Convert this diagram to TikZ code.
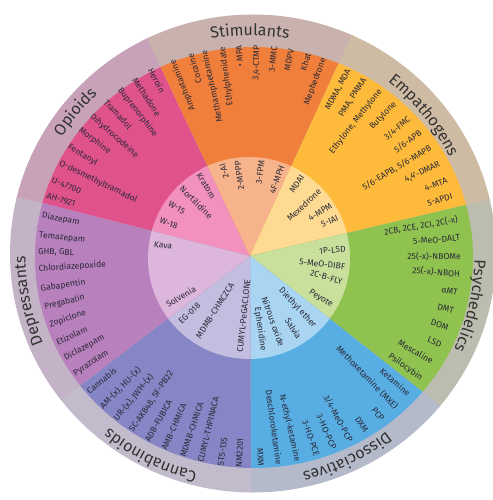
\documentclass[tikz,border=0pt]{standalone}
\usepackage{fontspec}
\setmainfont{Fira Sans}
\usetikzlibrary{decorations.text}
\definecolor{opiB}{HTML}{C8A2B9}\definecolor{opiD}{HTML}{E0528C}\definecolor{opiI}{HTML}{F291BE}
\definecolor{stiB}{HTML}{C9B2AE}\definecolor{stiD}{HTML}{F07F3C}\definecolor{stiI}{HTML}{F7B48C}
\definecolor{empB}{HTML}{CEBBA3}\definecolor{empD}{HTML}{FDBA3B}\definecolor{empI}{HTML}{FEDA93}
\definecolor{psyB}{HTML}{BDBDAF}\definecolor{psyD}{HTML}{8FC24F}\definecolor{psyI}{HTML}{C8E09C}
\definecolor{disB}{HTML}{B5BACB}\definecolor{disD}{HTML}{58ADE3}\definecolor{disI}{HTML}{A9D5F2}
\definecolor{canB}{HTML}{C1BBCB}\definecolor{canD}{HTML}{8685C5}\definecolor{canI}{HTML}{C3BEE0}
\definecolor{depB}{HTML}{C4B2C6}\definecolor{depD}{HTML}{B980BE}\definecolor{depI}{HTML}{DDB6DC}
\definecolor{txt}{HTML}{2B2A38}\definecolor{catc}{HTML}{333333}
\newcommand\catfont{\fontsize{16}{16}\selectfont\color{catc}}
\begin{document}
\begin{tikzpicture}[x=1pt,y=1pt,
  drug/.style={font=\fontsize{8.6}{9}\selectfont, text=txt, inner sep=0pt},
  rdrug/.style={drug, anchor=east},
  ldrug/.style={drug, anchor=west},
  catlabel/.style={decorate, decoration={text along path, text align=center}}]
\useasboundingbox (-250,-244) rectangle (242,256);

% wedges: band, drug ring, inner circle
\foreach \a/\b/\bc/\dc/\ic in {115/166/opiB/opiD/opiI, 65/115/stiB/stiD/stiI, 13/65/empB/empD/empI,
  -38.5/13/psyB/psyD/psyI, -90/-38.5/disB/disD/disI, -143/-90/canB/canD/canI, 166/217/depB/depD/depI}{
  \begin{scope}
    \clip (0,0) -- ({\a-0.3}:400pt) -- ({(\a+\b)/2}:400pt) -- ({\b+0.3}:400pt) -- cycle;
    \fill[\bc] (3,2.5) ellipse [x radius=243, y radius=239];
    \fill[\dc] (4,-1.5) ellipse [x radius=219, y radius=210.5];
    \fill[\ic] (-1,-2) circle [radius=101];
  \end{scope}}

% category labels
\path[catlabel, decoration={text={|\catfont|Stimulants}}] (115:220.5pt) arc[start angle=115, end angle=65, radius=220.5pt];
\path[catlabel, decoration={text={|\catfont|Empathogens}}] (65:222.5pt) arc[start angle=65, end angle=13, radius=222.5pt];
\path[catlabel, decoration={text={|\catfont|Psychedelics}}] (13:224.5pt) arc[start angle=13, end angle=-38.5, radius=224.5pt];
\path[catlabel, decoration={text={|\catfont|Dissociatives}}] (-38.5:222.5pt) arc[start angle=-38.5, end angle=-90, radius=222.5pt];
\path[catlabel, decoration={text={|\catfont|Cannabinoids}}] (270:222.5pt) arc[start angle=270, end angle=217, radius=222.5pt];
\path[catlabel, decoration={text={|\catfont|Depressants}}] (217:224.5pt) arc[start angle=217, end angle=166, radius=224.5pt];
\path[catlabel, decoration={text={|\catfont|Opioids}}] (166:222.5pt) arc[start angle=166, end angle=115, radius=222.5pt];

% Stimulants
\foreach \ang/\txt [count=\i] in {111.5/Amphetamine, 106.5/Cocaine, 102.5/Methamphetamine, 97.5/Ethylphenidate,
  93/{• MPA}, 88/{3,4-CTMP}, 83.3/3-MMC, 78.7/MDPV, 74/Khat, 69.5/Mephedrone}
  \node[rdrug, rotate=\ang] (sti\i) at (\ang:211pt) {\txt};
% Empathogens
\foreach \ang/\txt [count=\i] in {62/{MDMA, MDA}, 57/{PMA, PMMA}, 51.8/{Ethylone, Methylone}, 46.5/Butylone,
  41/{3/4-FMC}, 36/{5/6-APB}, 31/{5/6-EAPB, 5/6-MAPB}, 26/{4,4'-DMAR}, 21/{4-MTA}, 16.5/{5-APDI}}
  \node[rdrug, rotate=\ang] (emp\i) at (\ang:211pt) {\txt};
% Psychedelics
\foreach \ang/\txt [count=\i] in {10/{2CB, 2CE, 2CI, 2C(-x)}, 5/5-MeO-DALT, 0/25(-x)-NBOMe, -5/25(-x)-NBOH,
  -10/αMT, -15/DMT, -20/DOM, -25/LSD, -30/Mescaline, -35.5/Psilocybin}
  \node[rdrug, rotate=\ang] (psy\i) at (\ang:211pt) {\txt};
% Dissociatives
\foreach \ang/\txt [count=\i] in {-41/Ketamine, -46/{Methoxetamine (MXE)}, -51/PCP, -56.5/DXM, -61.5/{3/4-MeO-PCP},
  -66.5/3-HO-PCP, -71.5/3-HO-PCE, -77/N-ethyl-ketamine, -82/Deschloroketamine, -87/MXM}
  \node[rdrug, rotate=\ang] (dis\i) at (\ang:211pt) {\txt};
% Cannabinoids
\foreach \ang/\txt [count=\i] in {220/Cannabis, 225.5/{AM-(x), HU-(x)}, 230.5/{UR-(x), JWH-(x)},
  236/{SC-AKB48, 5F-PB22}, 241/ADB-FUBICA, 246/AMB-CHMICA, 251.5/MDMB-CHMICA, 256.5/CUMYL-THPINACA,
  262/STS-135, 267/NM2201}
  \node[ldrug, rotate=\ang+180] (can\i) at (\ang:212pt) {\txt};
% Depressants
\foreach \ang/\txt [count=\i] in {169/Diazepam, 174.5/Temazepam, 179/{GHB, GBL}, 183.5/Chlordiazepoxide,
  189/Gabapentin, 194/Pregabalin, 199/Zopiclone, 204/Etizolam, 209/Diclazepam, 214/Pyrazolam}
  \node[ldrug, rotate=\ang+180] (dep\i) at (\ang:212pt) {\txt};
% Opioids
\foreach \ang/\txt [count=\i] in {118/Heroin, 123/Methadone, 128/Buprenorphine, 133/Tramadol, 138.5/Dihydrocodeine,
  143.5/Morphine, 149/Fentanyl, 154/O-desmethyltramadol, 159/U-47700, 163.5/AH-7921}
  \node[ldrug, rotate=\ang+180] (opi\i) at (\ang:212pt) {\txt};

% inner circle
\foreach \ang/\txt [count=\i] in {107/2-AI, 97.5/2-MPPP, 83/3-FPM, 70.5/4F-MPH,
  57/MDAI, 43.5/Mexedrone, 32/4-MPM, 23.5/5-IAI,
  4/1P-LSD, -6.5/5-MeO-DIBF, -15.5/2C-B-FLY, -31/Peyote,
  -47.5/{Diethyl ether}, -59/Salvia, -70.5/{Nitrous oxide}, -82/Ephenidine}
  \node[rdrug, rotate=\ang] (inr\i) at (\ang:96pt) {\txt};
\foreach \ang/\txt [count=\i] in {122/Kratom, 135/Nortilidine, 146.5/W-15, 158/W-18,
  173/Kava, 210.5/Solvenia, 223.5/EG-018, 237.5/MDMB-CHMCZCA, 264/CUMYL-PeGACLONE}
  \node[ldrug, rotate=\ang+180] (inl\i) at (\ang:97pt) {\txt};
\end{tikzpicture}
\end{document}
